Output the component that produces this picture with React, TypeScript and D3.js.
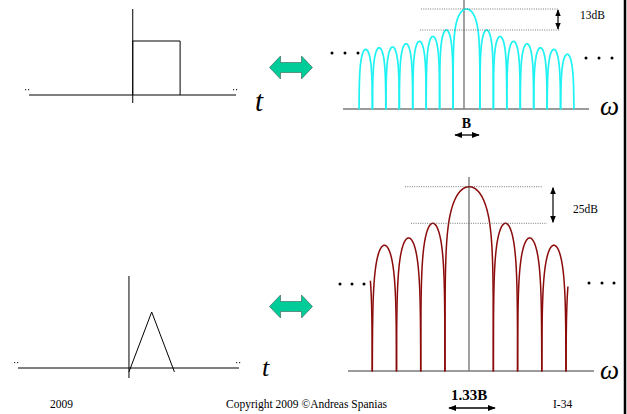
import React, { useEffect, useRef } from "react";
import * as d3 from "d3";

// time-domain pulses (time units, amplitude)
const rectPulse: [number, number][] = [[0, 0], [0, 1], [1, 1], [1, 0]];
const triPulse: [number, number][] = [[0, -0.07], [0.5, 1], [1, -0.07]];

// rectangular pulse spectrum: null positions and lobe peaks (dB)
const sincNulls = [-8, -7, -6, -5, -4, -3, -2, -1, 1, 2, 3, 4, 5, 6, 7, 8];
const sincPeaks = [-25, -24, -23.5, -21.5, -20, -17, -13, 0, -13, -17, -20, -21.5, -24, -25, -28];

// triangular pulse spectrum
const triNulls = [-4, -3, -2, -1, 1, 2, 3, 4];
const triPeaks = [-40, -35, -25, 0, -25, -35, -40];
// partial lobes at the outer edges: [from, to, peak dB, u start, u end]
const triPartial: [number, number, number, number, number][] = [
  [-5, -4, -40, 0.92, 1],
  [4, 5, -44, 0, 0.08],
];

const sidelobeLabels = ["13dB", "25dB"];
const footer = ["2009", "Copyright 2009 \u00A9Andreas Spanias", "I-34"];

const W = 627, H = 414;
const serif = "'Liberation Serif', 'Times New Roman', serif";

const App = () => {
  const ref = useRef<SVGSVGElement>(null);

  useEffect(() => {
    const svg = d3.select(ref.current);
    svg.selectAll("*").remove();

    const defs = svg.append("defs");
    defs.append("marker").attr("id", "ah").attr("viewBox", "0 0 10 10")
      .attr("refX", 9).attr("refY", 5).attr("markerWidth", 6).attr("markerHeight", 6)
      .attr("orient", "auto-start-reverse")
      .append("path").attr("d", "M0,1 L10,5 L0,9 Z").attr("fill", "#000");

    // ---------- time-domain panels ----------
    const timePanel = (pulse: [number, number][], x0: number, x1: number, yAxis: number,
      yTop: number, yBot: number, tDom: [number, number], ampPx: number, tX: number, tY: number, tSize: number) => {
      const x = d3.scaleLinear().domain(tDom).range([x0, x1]);
      const y = d3.scaleLinear().domain([0, 1]).range([yAxis, yAxis - ampPx]);
      const g = svg.append("g");
      g.append("line").attr("x1", x0).attr("x2", x1).attr("y1", yAxis).attr("y2", yAxis)
        .attr("stroke", "#000").attr("stroke-width", 1);
      g.append("line").attr("x1", x(0)).attr("x2", x(0)).attr("y1", yTop).attr("y2", yBot)
        .attr("stroke", "#000").attr("stroke-width", 1);
      g.append("path").attr("d", d3.line().x((d) => x(d[0])).y((d) => y(d[1]))(pulse) || "")
        .attr("fill", "none").attr("stroke", "#000").attr("stroke-width", 1);
      [x0 - 4, x1 - 3].forEach((px) => {
        [0, 3].forEach((dx) => {
          g.append("rect").attr("x", px + dx).attr("y", yAxis - 6).attr("width", 1.2).attr("height", 1.2).attr("fill", "#333");
        });
      });
      g.append("text").attr("x", tX).attr("y", tY).text("t")
        .attr("font-family", serif).attr("font-style", "italic").attr("font-size", tSize);
    };
    timePanel(rectPulse, 29, 236, 95, 9, 103, [-2.19, 2.18], 54, 255, 111, 29);
    timePanel(triPulse, 18, 239, 368, 276, 378, [-2.44, 2.42], 56, 262, 376, 26);

    // ---------- green double arrows ----------
    const dblArrow = (cy: number) => {
      const x0 = 269.5, x1 = 312.5, hw = 11, hh = 11.5, sh = 5;
      const pts = [
        [x0, cy], [x0 + hw, cy - hh], [x0 + hw, cy - sh], [x1 - hw, cy - sh], [x1 - hw, cy - hh],
        [x1, cy], [x1 - hw, cy + hh], [x1 - hw, cy + sh], [x0 + hw, cy + sh], [x0 + hw, cy + hh],
      ];
      svg.append("polygon").attr("points", pts.map((p) => p.join(",")).join(" "))
        .attr("fill", "#00cc99").attr("stroke", "#3a5a50").attr("stroke-width", 0.6);
    };
    dblArrow(67.5);
    dblArrow(306.5);

    // ---------- spectra ----------
    const lobePath = (a: number, b: number, peak: number, k: number, floor: number,
      x: d3.ScaleLinear<number, number>, y: d3.ScaleLinear<number, number>, u0 = 0, u1 = 1) => {
      const pts: [number, number][] = [];
      const n = 120;
      for (let i = 0; i <= n; i++) {
        const s = 0.5 * (1 - Math.cos((Math.PI * i) / n));
        const u = u0 + (u1 - u0) * s;
        const v = Math.sin(Math.PI * u);
        const db = v <= 1e-9 ? floor : Math.max(floor, peak + k * Math.log10(v));
        pts.push([x(a + (b - a) * u), y(db)]);
      }
      return d3.line()(pts) || "";
    };

    const spectrum = (opts: {
      nulls: number[]; peaks: number[]; xRange: [number, number]; xAxis: [number, number]; vAxisX: number;
      yPeak: number; yAxis: number; vTop: number; pxPerDb: number; k: number; color: string; width: number;
      dotsL: number[]; dotsR: number[]; dotsLY: number; dotsRY: number; dot1: [number, number]; dot2: [number, number];
      arrowX: number; label: string; labelX: number; labelY: number; omegaY: number;
      bw: string; bwY: number; bwArrow: [number, number]; bwArrowY: number; bwSize: number;
    }) => {
      const n = opts.nulls;
      const x = d3.scaleLinear().domain([n[0], n[n.length - 1]]).range(opts.xRange);
      const floorDb = -(opts.yAxis - opts.yPeak) / opts.pxPerDb;
      const y = d3.scaleLinear().domain([0, floorDb]).range([opts.yPeak, opts.yAxis]);
      const g = svg.append("g");
      // axes
      g.append("line").attr("x1", opts.xAxis[0]).attr("x2", opts.xAxis[1]).attr("y1", opts.yAxis).attr("y2", opts.yAxis)
        .attr("stroke", "#7a7a7a").attr("stroke-width", 1.6);
      g.append("line").attr("x1", opts.vAxisX).attr("x2", opts.vAxisX).attr("y1", opts.vTop).attr("y2", opts.yAxis)
        .attr("stroke", "#7a7a7a").attr("stroke-width", 1.4);
      // lobes
      for (let i = 0; i < n.length - 1; i++) {
        g.append("path").attr("d", lobePath(n[i], n[i + 1], opts.peaks[i], opts.k, floorDb, x, y))
          .attr("fill", "none").attr("stroke", opts.color).attr("stroke-width", opts.width);
      }
      // reference levels
      const lvl = [opts.peaks[Math.floor(opts.peaks.length / 2)], opts.peaks[Math.floor(opts.peaks.length / 2) + 1]];
      [opts.dot1, opts.dot2].forEach((r, i) => {
        g.append("line").attr("x1", r[0]).attr("x2", r[1]).attr("y1", y(lvl[i])).attr("y2", y(lvl[i]))
          .attr("stroke", "#555").attr("stroke-width", 0.8).attr("stroke-dasharray", "1,1.3");
      });
      g.append("line").attr("x1", opts.arrowX).attr("x2", opts.arrowX).attr("y1", y(lvl[0]) + 1).attr("y2", y(lvl[1]) - 1)
        .attr("stroke", "#000").attr("stroke-width", 1.2)
        .attr("marker-start", "url(#ah)").attr("marker-end", "url(#ah)");
      g.append("text").attr("x", opts.labelX).attr("y", opts.labelY).text(opts.label)
        .attr("font-family", serif).attr("font-size", 11.5);
      // continuation dots
      opts.dotsL.forEach((d) => g.append("circle").attr("cx", d).attr("cy", opts.dotsLY).attr("r", 1.5).attr("fill", "#000"));
      opts.dotsR.forEach((d) => g.append("circle").attr("cx", d).attr("cy", opts.dotsRY).attr("r", 1.5).attr("fill", "#000"));
      // omega
      g.append("text").attr("x", 600).attr("y", opts.omegaY).text("\u03C9")
        .attr("font-family", serif).attr("font-style", "italic").attr("font-size", 27);
      // bandwidth label
      g.append("text").attr("x", x(0)).attr("y", opts.bwY).text(opts.bw).attr("text-anchor", "middle")
        .attr("font-family", serif).attr("font-weight", "bold").attr("font-size", opts.bwSize);
      g.append("line").attr("x1", opts.bwArrow[0]).attr("x2", opts.bwArrow[1]).attr("y1", opts.bwArrowY).attr("y2", opts.bwArrowY)
        .attr("stroke", "#000").attr("stroke-width", 1.3)
        .attr("marker-start", "url(#ah)").attr("marker-end", "url(#ah)");
      return { x, y, floorDb, g };
    };

    spectrum({
      nulls: sincNulls, peaks: sincPeaks, xRange: [359, 574], xAxis: [343, 589], vAxisX: 464,
      yPeak: 9, yAxis: 109, vTop: 0, pxPerDb: 21 / 13, k: 20, color: "#1ef2f2", width: 1.7,
      dotsL: [332, 345, 358], dotsR: [586, 599, 612], dotsLY: 53, dotsRY: 58,
      dot1: [421, 559], dot2: [420, 559], arrowX: 558,
      label: sidelobeLabels[0], labelX: 580, labelY: 19, omegaY: 115,
      bw: "B", bwY: 128, bwArrow: [455, 479], bwArrowY: 135, bwSize: 14,
    });

    const tri = spectrum({
      nulls: triNulls, peaks: triPeaks, xRange: [372.3, 566], xAxis: [348, 594], vAxisX: 469,
      yPeak: 186.7, yAxis: 371, vTop: 177, pxPerDb: 36.6 / 25, k: 40, color: "#8b0a0a", width: 1.5,
      dotsL: [340, 352, 364], dotsR: [589, 602, 614], dotsLY: 284, dotsRY: 283,
      dot1: [405, 542], dot2: [411, 547], arrowX: 553,
      label: sidelobeLabels[1], labelX: 573, labelY: 213, omegaY: 379,
      bw: "1.33B", bwY: 400, bwArrow: [449, 495], bwArrowY: 408, bwSize: 15,
    });
    triPartial.forEach(([a, b, p, u0, u1]) => {
      tri.g.append("path").attr("d", lobePath(a, b, p, 40, tri.floorDb, tri.x, tri.y, u0, u1))
        .attr("fill", "none").attr("stroke", "#8b0a0a").attr("stroke-width", 1.5);
    });

    // ---------- footer & border ----------
    const fx = [50, 226, 553];
    footer.forEach((t, i) => {
      svg.append("text").attr("x", fx[i]).attr("y", 408).text(t)
        .attr("font-family", serif).attr("font-size", 11.5);
    });
    svg.append("line").attr("x1", 625).attr("x2", 625).attr("y1", 0).attr("y2", H)
      .attr("stroke", "#000").attr("stroke-width", 2.5);
  }, []);

  return (
    <svg ref={ref} width={W} height={H}
      style={{ position: "absolute", left: 0, top: 0, background: "#fff" }} />
  );
};

export default App;
